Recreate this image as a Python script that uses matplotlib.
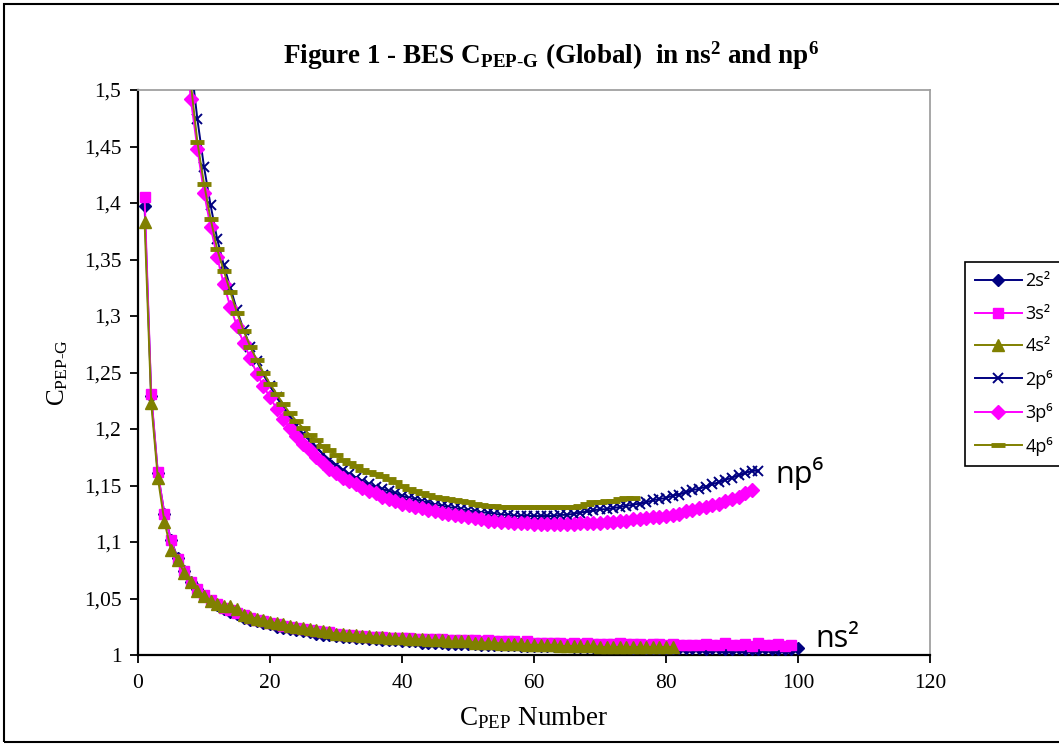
import matplotlib
matplotlib.use("Agg")
import matplotlib.pyplot as plt
from matplotlib.ticker import FixedLocator, FixedFormatter
from matplotlib.patches import Rectangle

# ---------------- data ----------------
x_2s2 = list(range(1, 101))
y_2s2 = [1.397, 1.229, 1.161, 1.125, 1.102, 1.086, 1.074, 1.065, 1.058, 1.052,
         1.048, 1.044, 1.041, 1.038, 1.036, 1.033, 1.031, 1.030, 1.028, 1.027,
         1.025, 1.024, 1.023, 1.022, 1.021, 1.020, 1.019, 1.018, 1.018, 1.017,
         1.016, 1.016, 1.015, 1.015, 1.014, 1.014, 1.013, 1.013, 1.013, 1.012,
         1.012, 1.012, 1.011, 1.011, 1.011, 1.011, 1.010, 1.010, 1.010, 1.010,
         1.010, 1.009, 1.009, 1.009, 1.009, 1.009, 1.009, 1.008, 1.008, 1.008,
         1.008, 1.008, 1.008, 1.008, 1.008, 1.007, 1.007, 1.007, 1.007, 1.007,
         1.007, 1.007, 1.007, 1.007, 1.006, 1.007, 1.006, 1.006, 1.006, 1.006,
         1.006, 1.006, 1.006, 1.006, 1.006, 1.005, 1.006, 1.006, 1.005, 1.005,
         1.006, 1.005, 1.005, 1.005, 1.006, 1.005, 1.005, 1.005, 1.005, 1.006]

x_3s2 = list(range(1, 100))
y_3s2 = [1.405, 1.231, 1.162, 1.125, 1.102, 1.085, 1.074, 1.065, 1.058, 1.053,
         1.049, 1.045, 1.042, 1.040, 1.037, 1.035, 1.033, 1.031, 1.030, 1.028,
         1.027, 1.026, 1.025, 1.024, 1.023, 1.022, 1.021, 1.020, 1.020, 1.019,
         1.018, 1.018, 1.017, 1.017, 1.016, 1.016, 1.016, 1.015, 1.015, 1.015,
         1.015, 1.014, 1.014, 1.014, 1.014, 1.014, 1.013, 1.013, 1.013, 1.013,
         1.013, 1.012, 1.013, 1.012, 1.012, 1.012, 1.012, 1.011, 1.012, 1.011,
         1.011, 1.011, 1.011, 1.011, 1.010, 1.011, 1.010, 1.011, 1.010, 1.010,
         1.010, 1.010, 1.011, 1.010, 1.010, 1.010, 1.009, 1.010, 1.010, 1.009,
         1.010, 1.009, 1.009, 1.009, 1.009, 1.010, 1.009, 1.009, 1.011, 1.009,
         1.009, 1.010, 1.008, 1.011, 1.009, 1.009, 1.010, 1.008, 1.009]

x_4s2 = list(range(1, 82))
y_4s2 = [1.383, 1.223, 1.157, 1.118, 1.093, 1.084, 1.073, 1.065, 1.057, 1.052,
         1.048, 1.045, 1.043, 1.043, 1.041, 1.035, 1.034, 1.032, 1.031, 1.029,
         1.028, 1.027, 1.026, 1.025, 1.024, 1.023, 1.022, 1.021, 1.020, 1.019,
         1.019, 1.018, 1.018, 1.017, 1.017, 1.016, 1.016, 1.015, 1.015, 1.015,
         1.014, 1.014, 1.014, 1.013, 1.013, 1.013, 1.012, 1.012, 1.012, 1.012,
         1.011, 1.011, 1.011, 1.011, 1.010, 1.010, 1.010, 1.010, 1.009, 1.009,
         1.009, 1.009, 1.009, 1.008, 1.008, 1.008, 1.008, 1.008, 1.008, 1.007,
         1.007, 1.007, 1.007, 1.007, 1.007, 1.007, 1.007, 1.007, 1.007, 1.007,
         1.007]

x_2p6 = list(range(8, 95))
y_2p6 = [1.525, 1.474, 1.432, 1.398, 1.368, 1.345, 1.325, 1.305, 1.288, 1.273,
         1.260, 1.248, 1.238, 1.228, 1.219, 1.211, 1.203, 1.196, 1.190, 1.184,
         1.178, 1.173, 1.168, 1.164, 1.160, 1.157, 1.154, 1.151, 1.149, 1.147,
         1.145, 1.143, 1.141, 1.139, 1.138, 1.136, 1.135, 1.133, 1.132, 1.131,
         1.130, 1.129, 1.128, 1.127, 1.126, 1.126, 1.125, 1.124, 1.124, 1.123,
         1.123, 1.123, 1.123, 1.123, 1.123, 1.123, 1.124, 1.124, 1.125, 1.126,
         1.127, 1.128, 1.129, 1.129, 1.130, 1.131, 1.132, 1.133, 1.134, 1.135,
         1.137, 1.138, 1.139, 1.141, 1.142, 1.144, 1.146, 1.147, 1.149, 1.151,
         1.153, 1.155, 1.157, 1.159, 1.161, 1.163, 1.163]

x_3p6 = list(range(7, 94))
y_3p6 = [1.555, 1.492, 1.448, 1.409, 1.379, 1.352, 1.328, 1.308, 1.291, 1.276,
         1.263, 1.249, 1.238, 1.228, 1.218, 1.209, 1.201, 1.194, 1.187, 1.181,
         1.175, 1.170, 1.165, 1.161, 1.157, 1.154, 1.151, 1.148, 1.145, 1.143,
         1.140, 1.138, 1.136, 1.134, 1.133, 1.131, 1.130, 1.128, 1.127, 1.126,
         1.125, 1.124, 1.123, 1.122, 1.121, 1.120, 1.119, 1.119, 1.118, 1.118,
         1.117, 1.117, 1.117, 1.116, 1.116, 1.116, 1.116, 1.116, 1.116, 1.116,
         1.117, 1.117, 1.117, 1.117, 1.118, 1.118, 1.119, 1.119, 1.120, 1.120,
         1.121, 1.122, 1.122, 1.123, 1.124, 1.125, 1.127, 1.128, 1.130, 1.131,
         1.133, 1.134, 1.136, 1.138, 1.140, 1.143, 1.146]

x_4p6 = list(range(8, 76))
y_4p6 = [1.506, 1.454, 1.417, 1.386, 1.359, 1.340, 1.321, 1.303, 1.287, 1.273,
         1.261, 1.250, 1.240, 1.231, 1.222, 1.214, 1.207, 1.201, 1.195, 1.190,
         1.185, 1.181, 1.177, 1.173, 1.170, 1.167, 1.164, 1.162, 1.160, 1.158,
         1.156, 1.153, 1.150, 1.147, 1.145, 1.143, 1.142, 1.140, 1.139, 1.138,
         1.137, 1.136, 1.135, 1.134, 1.133, 1.132, 1.132, 1.131, 1.131, 1.131,
         1.131, 1.131, 1.131, 1.131, 1.131, 1.131, 1.131, 1.131, 1.131, 1.132,
         1.134, 1.135, 1.135, 1.136, 1.136, 1.138, 1.139, 1.139]

series_labels = ["2s²", "3s²", "4s²", "2p⁶", "3p⁶", "4p⁶"]
x_ticks = [0, 20, 40, 60, 80, 100, 120]
y_ticks = [1.0, 1.05, 1.1, 1.15, 1.2, 1.25, 1.3, 1.35, 1.4, 1.45, 1.5]
y_tick_labels = ["1", "1,05", "1,1", "1,15", "1,2", "1,25", "1,3", "1,35", "1,4", "1,45", "1,5"]
title_text = r"Figure 1 - BES C$_{\mathbf{PEP\text{-}G}}$ (Global)  in ns$^{\mathbf{2}}$ and np$^{\mathbf{6}}$"
ylabel_text = r"C$_{\mathrm{PEP\text{-}G}}$"
xlabel_text = r"C$_{\mathrm{PEP}}$ Number"
annot_np = "np⁶"
annot_ns = "ns²"

# ---------------- style ----------------
plt.rcParams["mathtext.fontset"] = "custom"
plt.rcParams["mathtext.rm"] = "Liberation Serif"
plt.rcParams["mathtext.bf"] = "Liberation Serif:bold"
plt.rcParams["mathtext.it"] = "Liberation Serif:italic"

NAVY = "#000080"
MAG = "#FF00FF"
OLIVE = "#808000"
SANS = ["Open Sans", "Noto Sans", "DejaVu Sans"]

fig = plt.figure(figsize=(10.59, 7.45), dpi=100)
fig.patch.set_facecolor("white")
ax = fig.add_axes([138 / 1059, 1 - 655 / 745, (930 - 138) / 1059, (655 - 90) / 745])

lw = 1.4
ax.plot(x_2s2, y_2s2, color=NAVY, lw=lw, marker="D", ms=6, mfc=NAVY, mec=NAVY, label=series_labels[0], zorder=3)
ax.plot(x_3s2, y_3s2, color=MAG, lw=lw, marker="s", ms=7.5, mfc=MAG, mec=MAG, label=series_labels[1], zorder=4)
ax.plot(x_4s2, y_4s2, color=OLIVE, lw=lw, marker="^", ms=8.5, mfc=OLIVE, mec=OLIVE, label=series_labels[2], zorder=5)
ax.plot(x_2p6, y_2p6, color=NAVY, lw=lw, marker="x", ms=6.5, mew=1.4, mec=NAVY, label=series_labels[3], zorder=6)
ax.plot(x_3p6, y_3p6, color=MAG, lw=lw, marker="D", ms=7.5, mfc=MAG, mec=MAG, label=series_labels[4], zorder=7)
ax.plot(x_4p6, y_4p6, color=OLIVE, lw=lw, marker="_", ms=10, mew=3.5, mec=OLIVE, label=series_labels[5], zorder=8)

ax.set_xlim(0, 120)
ax.set_ylim(1.0, 1.5)
ax.xaxis.set_major_locator(FixedLocator(x_ticks))
ax.yaxis.set_major_locator(FixedLocator(y_ticks))
ax.yaxis.set_major_formatter(FixedFormatter(y_tick_labels))
ax.tick_params(axis="both", direction="out", length=6, width=1.3, color="black",
               labelsize=15.5)
ax.tick_params(axis="y", pad=6)
ax.tick_params(axis="x", pad=8)
for lab in ax.get_xticklabels() + ax.get_yticklabels():
    lab.set_fontfamily("Liberation Serif")

for s in ["left", "bottom"]:
    ax.spines[s].set_color("black")
    ax.spines[s].set_linewidth(1.6)
for s in ["top", "right"]:
    ax.spines[s].set_color("#a0a0a0")
    ax.spines[s].set_linewidth(1.3)

ax.set_xlabel(xlabel_text, fontfamily="Liberation Serif", fontsize=19.5, labelpad=8)
ax.set_ylabel(ylabel_text, fontfamily="Liberation Serif", fontsize=18, labelpad=10)

fig.text(551 / 1059, 1 - 56 / 745, title_text, ha="center", va="center",
         fontfamily="Liberation Serif", fontweight="bold", fontsize=19.5)

ax.text(96.5, 1.152, annot_np, fontsize=22, family=SANS, ha="left", va="baseline")
ax.text(102.6, 1.0075, annot_ns, fontsize=22, family=SANS, ha="left", va="baseline")

leg = fig.legend(loc="center left", bbox_to_anchor=(965 / 1059, 1 - 364 / 745),
                 frameon=True, fancybox=False, edgecolor="black", framealpha=1,
                 prop={"family": SANS, "size": 13},
                 handlelength=2.6, handletextpad=0.2, labelspacing=0.8,
                 borderpad=0.55, borderaxespad=0)
leg.get_frame().set_linewidth(1.2)

# outer chart border
fig.patches.append(Rectangle((4 / 1059, 3 / 745), 1.2, 1 - 7 / 745, transform=fig.transFigure,
                             fill=False, edgecolor="black", lw=1.5))

fig.savefig("out.png", dpi=100, facecolor="white")
